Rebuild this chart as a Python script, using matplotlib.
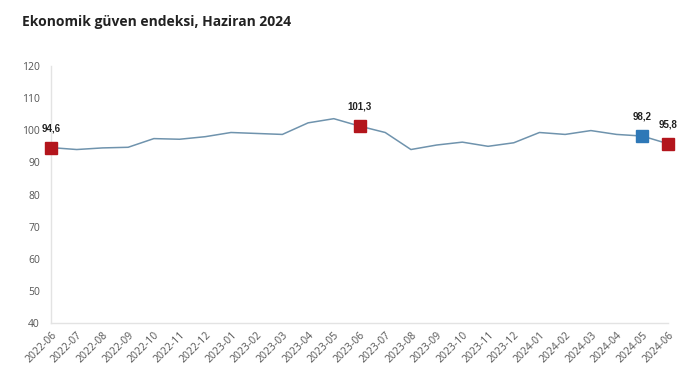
import matplotlib
matplotlib.use("Agg")
import matplotlib.pyplot as plt

months = ["2022-06", "2022-07", "2022-08", "2022-09", "2022-10", "2022-11", "2022-12",
          "2023-01", "2023-02", "2023-03", "2023-04", "2023-05", "2023-06", "2023-07",
          "2023-08", "2023-09", "2023-10", "2023-11", "2023-12", "2024-01", "2024-02",
          "2024-03", "2024-04", "2024-05", "2024-06"]
values = [94.6, 94.0, 94.5, 94.7, 97.4, 97.2, 98.0, 99.3, 99.0, 98.7, 102.3, 103.6,
          101.3, 99.3, 94.0, 95.4, 96.3, 95.0, 96.1, 99.3, 98.7, 99.9, 98.7, 98.2, 95.8]
red_idx = [0, 12, 24]
blue_idx = [23]
labels = {0: "94,6", 12: "101,3", 23: "98,2", 24: "95,8"}
yticks = [40, 50, 60, 70, 80, 90, 100, 110, 120]

plt.rcParams['font.family'] = ['Open Sans', 'DejaVu Sans']

fig = plt.figure(figsize=(6.95, 3.92), dpi=100)
ax = fig.add_axes([51/695, 1 - 323/392, (668 - 51)/695, (323 - 66)/392])

x = list(range(len(months)))
ax.plot(x, values, color="#6f93ad", lw=1.1, zorder=2)
ax.plot([x[i] for i in red_idx], [values[i] for i in red_idx], 's', color="#b3151c",
        markersize=8, zorder=3, clip_on=False)
ax.plot([x[i] for i in blue_idx], [values[i] for i in blue_idx], 's', color="#2e78b7",
        markersize=8, zorder=3, clip_on=False)
for i, t in labels.items():
    ax.annotate(t, (x[i], values[i]), xytext=(0, 10.5), textcoords="offset points",
                ha="center", va="bottom", fontsize=7, fontweight="bold", color="#222222",
                family=["Liberation Sans", "DejaVu Sans"])

ax.set_xlim(0, len(months) - 1)
ax.set_ylim(40, 120)
ax.set_yticks(yticks)
ax.set_yticklabels([str(v) for v in yticks])
ax.set_xticks(x)
ax.set_xticklabels(months, rotation=45, ha="right", rotation_mode="anchor")
ax.tick_params(axis="both", length=0, labelsize=7.5, labelcolor="#555555")
ax.tick_params(axis="y", pad=8)
ax.tick_params(axis="x", pad=5)
for s in ["top", "right"]:
    ax.spines[s].set_visible(False)
for s in ["left", "bottom"]:
    ax.spines[s].set_color("#e3e3e3")
    ax.spines[s].set_linewidth(1)

fig.text(22/695, 1 - 22/392, "Ekonomik güven endeksi, Haziran 2024", fontsize=10,
         fontweight="bold", color="#222222", ha="left", va="center")

fig.savefig("out.png", dpi=100)
